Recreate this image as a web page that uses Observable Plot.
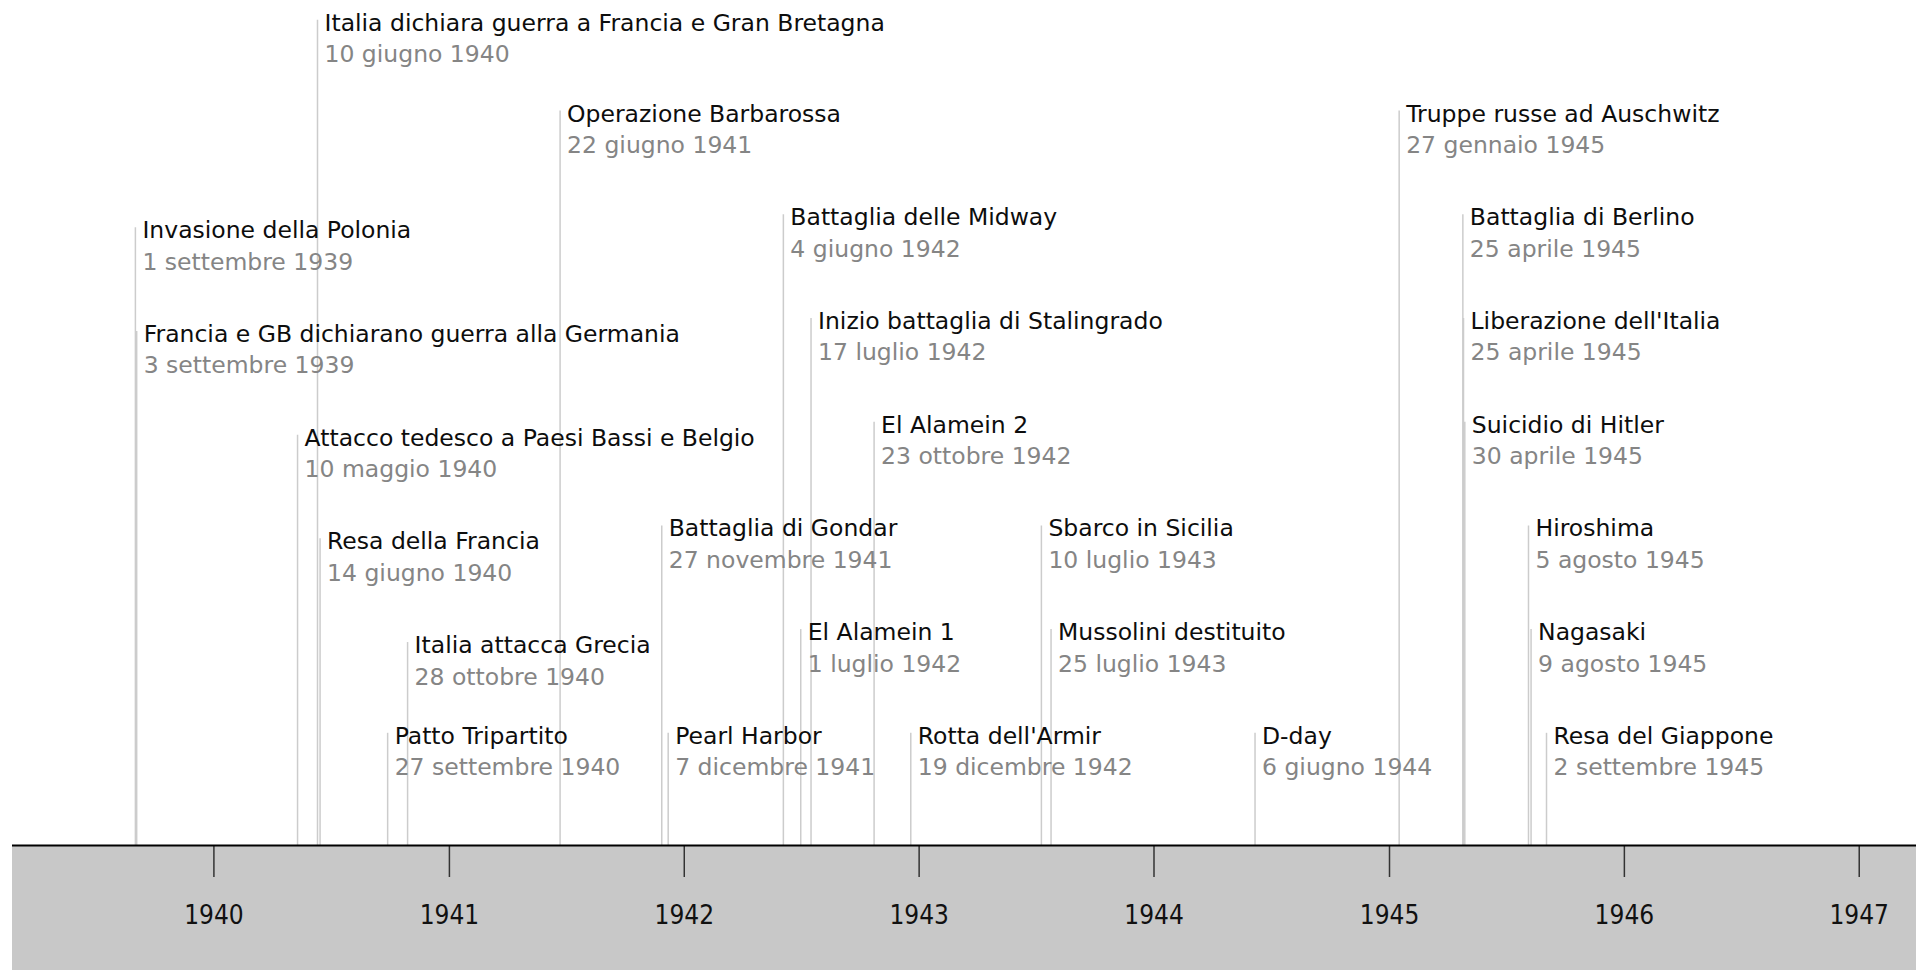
<!DOCTYPE html>
<html>
<head>
<meta charset="utf-8">
<script src="https://cdn.jsdelivr.net/npm/d3@7"></script>
<script src="https://cdn.jsdelivr.net/npm/@observablehq/plot@0.6"></script>
<style>
  html, body { margin: 0; padding: 0; background: #ffffff; }
  #chart svg { display: block; }
</style>
</head>
<body>
<div id="chart"></div>
<script>
// ---- data ----
const titles = [
  "Invasione della Polonia",
  "Francia e GB dichiarano guerra alla Germania",
  "Attacco tedesco a Paesi Bassi e Belgio",
  "Italia dichiara guerra a Francia e Gran Bretagna",
  "Resa della Francia",
  "Patto Tripartito",
  "Italia attacca Grecia",
  "Operazione Barbarossa",
  "Battaglia di Gondar",
  "Pearl Harbor",
  "Battaglia delle Midway",
  "El Alamein 1",
  "Inizio battaglia di Stalingrado",
  "El Alamein 2",
  "Rotta dell'Armir",
  "Sbarco in Sicilia",
  "Mussolini destituito",
  "D-day",
  "Truppe russe ad Auschwitz",
  "Battaglia di Berlino",
  "Liberazione dell'Italia",
  "Suicidio di Hitler",
  "Hiroshima",
  "Nagasaki",
  "Resa del Giappone"
];
const dateLabels = [
  "1 settembre 1939",
  "3 settembre 1939",
  "10 maggio 1940",
  "10 giugno 1940",
  "14 giugno 1940",
  "27 settembre 1940",
  "28 ottobre 1940",
  "22 giugno 1941",
  "27 novembre 1941",
  "7 dicembre 1941",
  "4 giugno 1942",
  "1 luglio 1942",
  "17 luglio 1942",
  "23 ottobre 1942",
  "19 dicembre 1942",
  "10 luglio 1943",
  "25 luglio 1943",
  "6 giugno 1944",
  "27 gennaio 1945",
  "25 aprile 1945",
  "25 aprile 1945",
  "30 aprile 1945",
  "5 agosto 1945",
  "9 agosto 1945",
  "2 settembre 1945"
];
// positions on the time axis
const dates = [
  "1939-09-01", "1939-09-03", "1940-05-10", "1940-06-10", "1940-06-14",
  "1940-09-27", "1940-10-28", "1941-06-22", "1941-11-27", "1941-12-07",
  "1942-06-04", "1942-07-01", "1942-07-17", "1942-10-23", "1942-12-19",
  "1943-07-10", "1943-07-25", "1944-06-06", "1945-01-16", "1945-04-25",
  "1945-04-26", "1945-04-28", "1945-08-05", "1945-08-09", "1945-09-02"
];
// stacking level of each label (rows above the axis)
const levels = [
  5.875, 4.875, 3.875, 7.875, 2.875,
  1, 1.875, 7, 3, 1,
  6, 2, 5, 4, 1,
  3, 2, 1, 7, 6,
  5, 4, 3, 2, 1
];
const tickYears = [1940, 1941, 1942, 1943, 1944, 1945, 1946, 1947];

// ---- layout ----
const W = 1916, H = 970;
const marginBottom = 125, marginTop = 0, marginLeft = 12, marginRight = 0;
const xDomain = [new Date("1939-02-22T00:00:00Z"), new Date("1947-03-31T00:00:00Z")];
const levelDomain = [-0.082, 8.066];
const pxPerLevel = (H - marginTop - marginBottom) / (levelDomain[1] - levelDomain[0]);
const bandBottom = levelDomain[0] - marginBottom / pxPerLevel;

const events = titles.map((t, i) => ({
  title: t,
  label: dateLabels[i],
  date: new Date(dates[i] + "T00:00:00Z"),
  level: levels[i]
}));
const ticks = tickYears.map(y => new Date(Date.UTC(y, 0, 1)));

const chart = Plot.plot({
  width: W,
  height: H,
  marginTop, marginBottom, marginLeft, marginRight,
  style: { fontFamily: "'DejaVu Sans', sans-serif", background: "#ffffff", color: "#111" },
  x: { type: "utc", domain: xDomain, label: null },
  y: { type: "linear", domain: levelDomain, axis: null },
  marks: [
    // grey band under the axis
    Plot.rect([0], {
      x1: () => xDomain[0], x2: () => xDomain[1],
      y1: () => levelDomain[0], y2: () => bandBottom,
      fill: "#c8c8c8"
    }),
    Plot.axisX(ticks, {
      anchor: "bottom",
      tickSize: 32,
      tickPadding: 28,
      tickFormat: d3.utcFormat("%Y"),
      stroke: "#333",
      strokeWidth: 1.5,
      fill: "#111",
      fontSize: 26,
      fontFamily: "'DejaVu Sans Condensed', 'DejaVu Sans', sans-serif",
      label: null
    }),
    Plot.ruleX(events, {
      x: "date",
      y1: "level",
      y2: () => levelDomain[0],
      stroke: "#cccccc",
      strokeWidth: 1.5
    }),
    Plot.ruleY([levelDomain[0]], { stroke: "#000", strokeWidth: 2 }),
    Plot.text(events, {
      x: "date",
      y: "level",
      text: "title",
      textAnchor: "start",
      lineAnchor: "bottom",
      dx: 7,
      dy: 10.5,
      fontSize: 23.5,
      fill: "#0d0d0d"
    }),
    Plot.text(events, {
      x: "date",
      y: "level",
      text: "label",
      textAnchor: "start",
      lineAnchor: "bottom",
      dx: 7,
      dy: 42,
      fontSize: 23.5,
      fill: "#858585"
    })
  ]
});
document.getElementById("chart").appendChild(chart);
</script>
</body>
</html>
